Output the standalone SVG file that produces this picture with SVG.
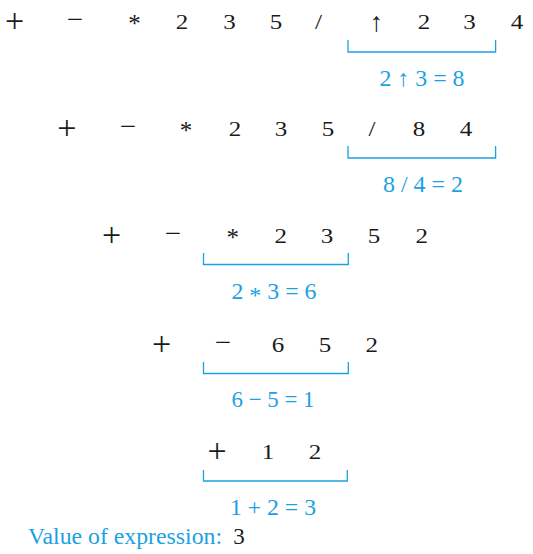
<svg xmlns="http://www.w3.org/2000/svg" width="533" height="554" viewBox="0 0 533 554">
<style>
text{font-family:'Liberation Serif','Times New Roman','DejaVu Serif',serif}
.t{font-size:20px;fill:#1a1a1a;text-anchor:middle}
.op{font-size:34px}
.mi{font-size:29px}
.as{font-size:25px}
.ar{font-size:27px}
.b{font-size:23px;fill:#1ba1e2;text-anchor:middle}
.br{fill:none;stroke:#1ba1e2;stroke-width:1.3}
</style>
<rect width="533" height="554" fill="#fff"/>
<g id="row1">
<text class="t op" x="14.5" y="32">+</text>
<text class="t mi" x="75" y="29">−</text>
<text class="t as" x="134.5" y="32">*</text>
<text class="t" x="182" y="29" textLength="12.5" lengthAdjust="spacingAndGlyphs">2</text>
<text class="t" x="229.5" y="29" textLength="12.5" lengthAdjust="spacingAndGlyphs">3</text>
<text class="t" x="276" y="29" textLength="12.5" lengthAdjust="spacingAndGlyphs">5</text>
<text class="t" x="318.6" y="29" textLength="7" lengthAdjust="spacingAndGlyphs">/</text>
<text class="t ar" x="376.5" y="31">↑</text>
<text class="t" x="424" y="29" textLength="12.5" lengthAdjust="spacingAndGlyphs">2</text>
<text class="t" x="469.5" y="29" textLength="12.5" lengthAdjust="spacingAndGlyphs">3</text>
<text class="t" x="517" y="29" textLength="12.5" lengthAdjust="spacingAndGlyphs">4</text>
<text class="b" x="422" y="85.5" textLength="85" lengthAdjust="spacingAndGlyphs">2 ↑ 3 = 8</text>
</g>
<g id="row2">
<text class="t op" x="66.8" y="139">+</text>
<text class="t mi" x="128" y="136">−</text>
<text class="t as" x="186" y="139">*</text>
<text class="t" x="235" y="136" textLength="12.5" lengthAdjust="spacingAndGlyphs">2</text>
<text class="t" x="281" y="136" textLength="12.5" lengthAdjust="spacingAndGlyphs">3</text>
<text class="t" x="328" y="136" textLength="12.5" lengthAdjust="spacingAndGlyphs">5</text>
<text class="t" x="372" y="136" textLength="7" lengthAdjust="spacingAndGlyphs">/</text>
<text class="t" x="419" y="136" textLength="12.5" lengthAdjust="spacingAndGlyphs">8</text>
<text class="t" x="466" y="136" textLength="12.5" lengthAdjust="spacingAndGlyphs">4</text>
<text class="b" x="423" y="192" textLength="80" lengthAdjust="spacingAndGlyphs">8 / 4 = 2</text>
</g>
<g id="row3">
<text class="t op" x="111.7" y="246">+</text>
<text class="t mi" x="173" y="243">−</text>
<text class="t as" x="232.7" y="246">*</text>
<text class="t" x="280.7" y="243" textLength="12.5" lengthAdjust="spacingAndGlyphs">2</text>
<text class="t" x="327" y="243" textLength="12.5" lengthAdjust="spacingAndGlyphs">3</text>
<text class="t" x="374" y="243" textLength="12.5" lengthAdjust="spacingAndGlyphs">5</text>
<text class="t" x="421.7" y="243" textLength="12.5" lengthAdjust="spacingAndGlyphs">2</text>
<text class="b" x="274" y="299" textLength="85" lengthAdjust="spacingAndGlyphs">2 <tspan dy="4">*</tspan><tspan dy="-4"> 3 = 6</tspan></text>
</g>
<g id="row4">
<text class="t op" x="161.7" y="355">+</text>
<text class="t mi" x="223" y="352">−</text>
<text class="t" x="278" y="352" textLength="12.5" lengthAdjust="spacingAndGlyphs">6</text>
<text class="t" x="325" y="352" textLength="12.5" lengthAdjust="spacingAndGlyphs">5</text>
<text class="t" x="371.7" y="352" textLength="12.5" lengthAdjust="spacingAndGlyphs">2</text>
<text class="b" x="273" y="407" textLength="83" lengthAdjust="spacingAndGlyphs">6 − 5 = 1</text>
</g>
<g id="row5">
<text class="t op" x="217" y="462">+</text>
<text class="t" x="268" y="459" textLength="12.5" lengthAdjust="spacingAndGlyphs">1</text>
<text class="t" x="315" y="459" textLength="12.5" lengthAdjust="spacingAndGlyphs">2</text>
<text class="b" x="273" y="515" textLength="86" lengthAdjust="spacingAndGlyphs">1 + 2 = 3</text>
</g>
<g id="result">
<text class="b" x="28" y="544" style="text-anchor:start" textLength="194" lengthAdjust="spacingAndGlyphs">Value of expression:</text>
<text class="t" x="239" y="544" style="font-size:23px">3</text>
</g>
<g id="connectors">
<path class="br" d="M348,40V52H495.6V40"/>
<path class="br" d="M348,146V158H495.6V146"/>
<path class="br" d="M203.5,253V264.5H348.3V253"/>
<path class="br" d="M203.5,362V373.5H348.3V362"/>
<path class="br" d="M203.5,470V481H347.3V470"/>
</g>
</svg>
